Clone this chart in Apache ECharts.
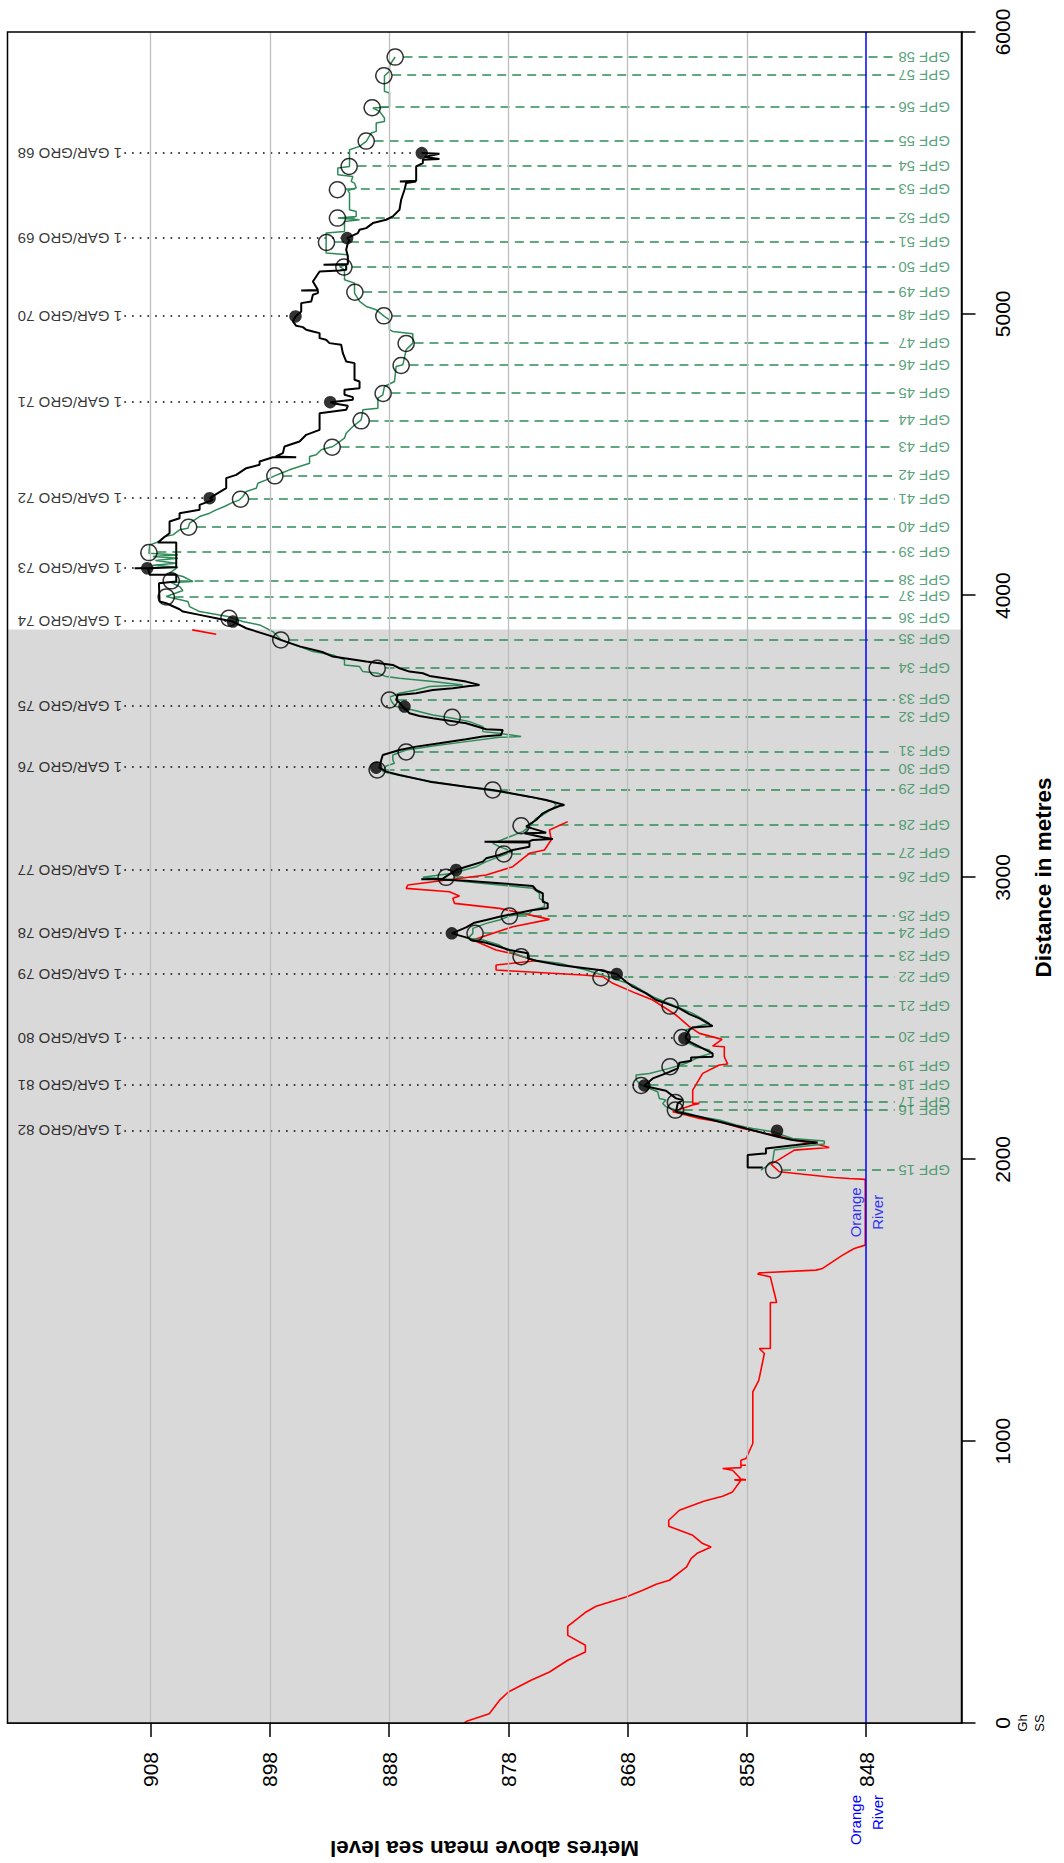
<!DOCTYPE html>
<html>
<head>
<meta charset="utf-8">
<script src="https://cdn.jsdelivr.net/npm/echarts@6/dist/echarts.min.js"></script>
<style>
  html, body { margin: 0; padding: 0; background: #ffffff; width: 1064px; height: 1863px; overflow: hidden; }
  /* The profile is laid out landscape and turned a quarter turn so distance runs up the page */
  #chart { position: absolute; left: 0; top: 0; width: 1863px; height: 1064px;
           transform-origin: 0 0; transform: translate(0, 1863px) rotate(-90deg); }
</style>
</head>
<body>
<div id="chart"></div>
<script>
// ---- axis ticks ----
const elevTicks = [848, 858, 868, 878, 888, 898, 908];
const riverLevel = 848;          // Orange River water level
const riverLabelDist = 1812;     // where the river name sits along the section
const shadeEnd = 3880;           // extent of the shaded stretch of the section

// ---- ground surface (distance m, elevation m) ----
const groundProfile = [
  [0, 881.7], [6, 881.5], [33, 879.6], [80, 878.75], [110, 878.0], [151.6, 876.1], [181, 874.55],
  [222.6, 873.02], [252, 871.54], [275.8, 871.54], [311, 873.02], [343.2, 873.02], [394, 871.48],
  [414.2, 870.64], [447.3, 868.13], [471, 866.73], [492.3, 865.6], [506.5, 864.5], [553.7, 863.05],
  [583.5, 862.68], [603.5, 862.12], [624.7, 861.0], [636.7, 861.7], [666, 862.54], [698, 864.55],
  [719.5, 864.55], [755, 863.66], [788, 861.56], [804.7, 860.03], [820, 859.2], [861, 858.5],
  [862.6, 859.05], [862.6, 858.07], [865.5, 858.5], [897, 859.2], [903, 860.03], [906, 858.5],
  [914.7, 858.5], [914.7, 858.07], [914.7, 858.5], [932, 858.5], [938.5, 858.07], [991.7, 857.5],
  [1175, 857.5], [1216, 857.0], [1311, 856.53], [1329, 856.95], [1329, 856.03], [1492, 856.03],
  [1492, 855.5], [1583, 856.03], [1593, 857.1], [1597.3, 856.95], [1606.9, 852.2], [1612.9, 851.65],
  [1660, 849.97], [1683.8, 848.99], [1695.6, 848.07], [1925.6, 848.07], [1929, 848.07],
  [1932.2, 849.41], [1935.8, 850.67], [1955.9, 855.28], [1983.1, 855.98], [1999.7, 855.28],
  [2032.8, 854.02], [2042.2, 851.09], [2054.1, 852.2], [2068.3, 854.16], [2086, 855.56],
  [2091.9, 856.4], [2109.7, 858.35], [2133.3, 860.31], [2145.2, 861.98], [2157, 863.1],
  [2168.9, 864.22], [2192.5, 862.54], [2198.4, 861.98], [2198.4, 862.54], [2245.8, 862.54],
  [2304.9, 861.7], [2334.5, 860.31], [2338.1, 859.61], [2364.1, 859.89], [2399.6, 859.89],
  [2401.9, 860.87], [2425.6, 860.08], [2446.9, 861.98], [2470.6, 862.82], [2512, 863.94],
  [2565.2, 865.89], [2588.9, 867.29], [2624.4, 869.25], [2648.1, 870.09], [2654, 871.76],
  [2671.7, 879.03], [2689.5, 879.03], [2704.8, 875.67], [2730.9, 877.77], [2742.7, 879.03],
  [2778.2, 880.98], [2825.4, 877.63], [2851.5, 874.55], [2872.8, 876.79], [2890.5, 878.75],
  [2908.3, 882.52], [2926, 882.66], [2934.3, 882.1], [2949.7, 882.94], [2961.5, 886.57],
  [2973.4, 886.43], [3008.8, 879.86], [3038.4, 877.63], [3085.8, 876.23], [3097.6, 874.97],
  [3133.1, 874.41], [3168.6, 874.55], [3198.2, 873.02]
];
const groundProfileUpper = [[3863.2, 902.5], [3878.5, 904.51]];

// ---- measured profile (black) ----
const blackProfile = [
  [1971.3, 856.67], [1971.3, 857.93], [2015, 857.93], [2021, 856.4], [2038.7, 856.4], [2050.5, 853.88],
  [2060, 852.06], [2068.3, 854.16], [2080.1, 855.42], [2115.6, 858.63], [2151.1, 861.98], [2168.9, 863.94],
  [2198.4, 863.8], [2210.3, 863.38], [2216.2, 863.94], [2243.4, 864.78], [2257.6, 866.31], [2262.3, 866.59],
  [2287.2, 865.89], [2305, 864.78], [2322.7, 863.8], [2342.8, 863.66], [2349.9, 862.68], [2361.7, 862.68],
  [2364.1, 860.87], [2375.9, 860.87], [2417.3, 862.82], [2432.7, 863.16], [2458.7, 862.82], [2468.2, 862.54],
  [2472.9, 860.87], [2500.1, 861.98], [2515.5, 862.82], [2535.6, 863.66], [2553.4, 864.78], [2565.2, 865.61],
  [2588.9, 866.45], [2612.6, 867.57], [2630.3, 868.13], [2657.5, 868.91], [2671.7, 870.37], [2689.5, 873.72],
  [2704.8, 875.67], [2713.1, 876.37], [2730.9, 876.37], [2742.7, 877.91], [2754.5, 878.75], [2768.7, 879.87],
  [2778.2, 881.12], [2784.1, 881.26], [2801.8, 882.74], [2823.1, 881.54], [2839.7, 880.84], [2849.1, 879.86],
  [2861, 878.75], [2875.1, 877.07], [2884.6, 875.95], [2890.5, 874.7], [2908.3, 874.7], [2914.2, 875.11],
  [2943.8, 875.11], [2955.6, 875.67], [2969.8, 875.95], [2981.6, 879.31], [2988.7, 881.54], [2993.5, 884.33],
  [2993.5, 885.3], [2996, 883.5], [3026.6, 882.38], [3038.4, 881.54], [3056.2, 880.14], [3068, 879.86],
  [3079.8, 878.75], [3097.6, 877.63], [3109.4, 876.23], [3124, 876.23], [3127, 880.0], [3129, 876.23],
  [3133.1, 875.95], [3136.6, 874.27], [3142.5, 875.11], [3156.7, 876.65], [3159.1, 874.83], [3180.4, 876.51],
  [3204.1, 875.67], [3227.7, 875.11], [3239.6, 874.55], [3253.8, 873.72], [3257.3, 873.3], [3275.1, 874.83],
  [3286.9, 876.23], [3310.6, 879.31], [3322.4, 881.54], [3340.1, 884.61], [3363.8, 887.13], [3375.6, 888.25],
  [3389.8, 888.81], [3417, 888.66], [3434.8, 888.53], [3452.5, 887.13], [3464.4, 885.73], [3476.2, 883.78],
  [3490.4, 881.54], [3499.9, 880.14], [3505.8, 878.61], [3523.5, 878.47], [3525.9, 879.86], [3547.2, 881.54],
  [3564.9, 884.33], [3573.2, 885.45], [3582.7, 886.29], [3600.4, 886.71], [3620.6, 887.13], [3630, 887.41],
  [3647.8, 887.27], [3653.7, 885.73], [3665.5, 884.33], [3671.4, 882.66], [3679.7, 881.26], [3683.3, 880.42],
  [3695.1, 881.54], [3715.2, 884.61], [3724.7, 885.17], [3730.6, 886.29], [3742.4, 887.13], [3754.3, 887.69],
  [3766.1, 889.92], [3783.8, 892.72], [3800, 893.6], [3820, 895.5], [3843, 897.1], [3854.8, 897.75],
  [3884.4, 899.98], [3908.1, 901.1], [3920, 902.5], [3931.8, 903.89], [3943.6, 905.29], [3951.9, 905.57],
  [3973.2, 906.69], [3979.1, 907.25], [4044.2, 907.3], [4050.1, 905.85], [4073.8, 905.85], [4073.8, 908.08],
  [4097.4, 908.22], [4097.4, 909.34], [4097.4, 908.2], [4101, 905.85], [4188.5, 905.85], [4188.5, 907.39],
  [4203.9, 906.97], [4221.6, 906.41], [4263, 906.41], [4274.9, 905.57], [4292.6, 905.57], [4304.5, 903.89],
  [4322.2, 903.89], [4340, 902.77], [4345.9, 903.05], [4363.6, 902.36], [4381.4, 901.66], [4416.9, 901.66],
  [4428.7, 900.82], [4452.4, 899.98], [4464.2, 898.86], [4476.1, 898.86], [4491.4, 897.74], [4491.4, 895.79],
  [4493.8, 897.5], [4505.6, 896.91], [4529.3, 896.77], [4547.1, 895.51], [4570.7, 894.95], [4588.4, 893.83],
  [4647.6, 893.83], [4659.4, 891.6], [4673.6, 891.46], [4683, 892.72], [4686.6, 892.94], [4694.9, 891.04],
  [4704.4, 891.04], [4712.7, 891.74], [4730.4, 891.74], [4736.3, 890.48], [4760, 890.48], [4765.9, 890.9],
  [4825.1, 890.9], [4831, 891.6], [4860.6, 891.88], [4890.2, 892.02], [4896.1, 893.0], [4907.9, 893.28],
  [4913.8, 893.83], [4931.6, 893.83], [4937.5, 894.39], [4943.4, 894.95], [4952.9, 895.23], [4957.6, 895.79],
  [4972.9, 896.07], [4990.7, 895.85], [5008.4, 895.37], [5038, 895.37], [5043.9, 894.53], [5067.6, 894.39],
  [5073.5, 893.97], [5083, 893.97], [5083, 895.37], [5085, 893.97], [5114.9, 894.39], [5150.4, 893.83],
  [5153.9, 892.16], [5156.3, 891.6], [5174, 891.6], [5174, 893.5], [5177, 891.5], [5179.9, 891.46],
  [5203.6, 891.46], [5227.3, 891.6], [5251, 891.46], [5262.8, 891.32], [5268.7, 891.52], [5286.5, 890.62],
  [5298.3, 890.48], [5304.2, 889.92], [5322, 889.36], [5333.8, 888.25], [5345.7, 887.69], [5369.3, 887.13],
  [5404.8, 886.99], [5440.3, 886.71], [5464, 886.57], [5469.9, 885.73], [5469.9, 887.1], [5472, 885.73],
  [5523.1, 885.73], [5534.9, 885.17], [5546.8, 885.17], [5549.1, 883.78], [5556.2, 885.03], [5568.1, 883.78],
  [5570.4, 885.26]
];

// ---- interpreted profile (green) ----
const greenProfile = [
  [1961.8, 856.82], [1973.6, 856.4], [1991.4, 855.84], [2032.8, 855.7], [2044.6, 853.6], [2054.1, 851.51],
  [2064.7, 851.51], [2074.2, 854.16], [2097.8, 855.84], [2109.7, 857.51], [2121.5, 858.91], [2139.3, 860.31],
  [2151.1, 861.98], [2174.8, 863.94], [2186.6, 864.78], [2198.4, 865.06], [2210.3, 864.78], [2216.2, 865.34],
  [2239.8, 865.48], [2263.5, 866.87], [2281.3, 867.29], [2299, 867.29], [2304.9, 866.17], [2322.7, 864.5],
  [2340.4, 863.1], [2364.1, 861.98], [2375.9, 861.0], [2387.7, 861.14], [2399.6, 862.26], [2417.3, 863.1],
  [2458.7, 863.1], [2468.2, 862.54], [2482.4, 861.14], [2494.2, 861.56], [2517.9, 862.54], [2547.5, 864.22],
  [2577.1, 865.89], [2618.5, 867.57], [2642.1, 869.25], [2671.7, 871.48], [2695.4, 873.72], [2707.2, 875.95],
  [2736.8, 877.91], [2760.5, 878.75], [2778.2, 880.14], [2784.1, 881.4], [2801.8, 880.98], [2819.5, 880.98],
  [2837.3, 879.86], [2849.1, 878.75], [2863.3, 877.91], [2872.8, 876.23], [2884.6, 875.95], [2896.5, 874.97],
  [2914.2, 874.97], [2926, 875.39], [2943.8, 875.39], [2961.5, 875.95], [2973.4, 878.75], [2985.2, 881.54],
  [2993.5, 882.94], [3000.6, 885.17], [3014.8, 882.66], [3038.4, 880.7], [3056.2, 879.86], [3073.9, 878.75],
  [3091.7, 877.63], [3109.4, 878.75], [3121.2, 879.31], [3162.7, 876.79], [3180.4, 876.23], [3194.6, 875.95],
  [3210, 875.67], [3221.8, 875.11], [3245.5, 874.27], [3257.3, 873.99], [3269.1, 874.27], [3286.9, 876.23],
  [3304.6, 878.75], [3322.4, 881.54], [3340.1, 884.33], [3369.7, 887.97], [3375.6, 888.53], [3395.8, 888.25],
  [3405.2, 887.55], [3417, 887.69], [3434.8, 887.69], [3452.5, 886.57], [3466.7, 884.33], [3482.1, 881.54],
  [3497.5, 878.75], [3499.9, 876.93], [3511.7, 878.75], [3517.6, 880.14], [3535.4, 880.14], [3553.1, 881.26],
  [3564.9, 882.66], [3576.8, 884.33], [3594.5, 886.01], [3606.4, 887.41], [3618.2, 887.69], [3639.5, 887.97],
  [3653.7, 887.13], [3665.5, 885.73], [3677.4, 884.61], [3683.3, 881.82], [3695.1, 884.33], [3706.9, 887.13],
  [3712.8, 888.25], [3724.7, 888.94], [3730.6, 890.2], [3748.3, 890.48], [3754.3, 891.74], [3772, 891.74],
  [3789.8, 892.72], [3801.6, 894.39], [3819.3, 895.51], [3843, 897.05], [3872.6, 897.75], [3896.3, 898.86],
  [3908.1, 900.26], [3925.9, 901.52], [3943.6, 903.89], [3961.3, 904.73], [3979.1, 904.87], [3996.8, 906.69],
  [4018.1, 905.29], [4032.3, 905.57], [4046.6, 906.27], [4050.1, 904.45], [4067.9, 905.29], [4079.7, 906.41],
  [4101, 905.71], [4108, 907.8], [4115.2, 905.85], [4125, 907.6], [4132.9, 905.71], [4138.8, 907.8],
  [4144.7, 905.71], [4150.6, 908.14], [4180.2, 908.08], [4192.1, 907.25], [4209.8, 906.83], [4215.7, 906.13],
  [4233.5, 905.57], [4239.4, 904.87], [4257.1, 904.73], [4280.8, 903.89], [4292.6, 903.05], [4304.5, 902.5],
  [4316.3, 901.8], [4328.2, 901.24], [4340, 900.54], [4351.8, 900.26], [4369.6, 899.98], [4381.4, 899.14],
  [4399.1, 899.0], [4411, 898.3], [4425.2, 897.61], [4434.6, 897.05], [4446.5, 896.35], [4470.1, 894.67],
  [4493.8, 894.67], [4499.7, 894.11], [4517.5, 893.69], [4529.3, 892.72], [4558.9, 891.74], [4576.6, 891.6],
  [4600.3, 891.04], [4624, 890.34], [4659.5, 890.2], [4665.4, 888.94], [4700.9, 888.94], [4712.7, 888.53],
  [4742.3, 888.39], [4760, 887.55], [4813.2, 887.41], [4819.2, 886.85], [4872.4, 886.57], [4896.1, 886.01],
  [4929.2, 886.01], [4937.5, 887.69], [4943.4, 887.97], [4978.9, 887.97], [4990.7, 888.39], [5014.3, 889.08],
  [5026.2, 889.92], [5043.9, 890.48], [5073.5, 890.9], [5108.9, 890.9], [5120.8, 891.74], [5156.3, 891.74],
  [5168.1, 892.16], [5174, 891.46], [5209.5, 891.46], [5215.5, 893.28], [5286.5, 893.28], [5292.4, 891.74],
  [5327.9, 891.74], [5333.8, 890.48], [5339.7, 892.3], [5345.6, 890.76], [5363.4, 890.76], [5369.3, 891.32],
  [5428.5, 891.32], [5437.9, 891.46], [5446.2, 890.76], [5464, 890.9], [5469.9, 891.18], [5487.6, 891.04],
  [5493.5, 892.3], [5517.2, 892.3], [5523.1, 891.32], [5582.3, 891.32], [5594.1, 890.48], [5611.8, 889.92],
  [5641.4, 889.5], [5647.3, 889.08], [5676.9, 889.08], [5682.8, 888.39], [5694.7, 888.39], [5718.3, 888.8],
  [5730.2, 889.36], [5733.7, 887.97], [5783.4, 887.97], [5789.3, 888.39], [5844.9, 888.39], [5860.3, 887.97],
  [5878.1, 887.97], [5889.9, 887.83], [5911.2, 887.49]
];

// ---- GPF stations ----
const gpfNames = ['GPF 15','GPF 16','GPF 17','GPF 18','GPF 19','GPF 20','GPF 21','GPF 22','GPF 23','GPF 24',
  'GPF 25','GPF 26','GPF 27','GPF 28','GPF 29','GPF 30','GPF 31','GPF 32','GPF 33','GPF 34','GPF 35','GPF 36',
  'GPF 37','GPF 38','GPF 39','GPF 40','GPF 41','GPF 42','GPF 43','GPF 44','GPF 45','GPF 46','GPF 47','GPF 48',
  'GPF 49','GPF 50','GPF 51','GPF 52','GPF 53','GPF 54','GPF 55','GPF 56','GPF 57','GPF 58'];
const gpfDist = [1961.8, 2174.8, 2202, 2262.3, 2328.6, 2432.7, 2544, 2644.5, 2719, 2801.8, 2863.3, 3000.6,
  3083.4, 3184, 3310.6, 3381.6, 3445.4, 3568.5, 3630, 3742.4, 3843, 3920, 3995.7, 4052.5, 4153, 4243, 4342.3,
  4425.2, 4526.9, 4620.4, 4717.4, 4816.8, 4894.9, 4993, 5077, 5165.8, 5253.3, 5339.7, 5440.3, 5523.1, 5613,
  5731.3, 5844.9, 5911.2];
const gpfElev = [855.75, 863.99, 863.99, 866.87, 864.44, 863.44, 864.44, 870.23, 876.93, 880.79, 877.91, 883.22,
  878.38, 876.93, 879.31, 889.0, 886.57, 882.71, 887.97, 889.0, 897.08, 901.43, 906.69, 906.27, 908.14, 904.81,
  900.46, 897.58, 892.77, 890.34, 888.5, 886.99, 886.57, 888.44, 890.87, 891.79, 893.25, 892.33, 892.33, 891.35,
  889.92, 889.42, 888.44, 887.49];

// ---- GAR/GRO boreholes ----
const garNames = ['1 GAR/GRO 82','1 GAR/GRO 81','1 GAR/GRO 80','1 GAR/GRO 79','1 GAR/GRO 78','1 GAR/GRO 77',
  '1 GAR/GRO 76','1 GAR/GRO 75','1 GAR/GRO 74','1 GAR/GRO 73','1 GAR/GRO 72','1 GAR/GRO 71','1 GAR/GRO 70',
  '1 GAR/GRO 69','1 GAR/GRO 68'];
const garDist = [2101.4, 2262.3, 2429.2, 2657.5, 2801.8, 3026.6, 3389.8, 3606.4, 3908.1, 4097.4, 4345.9,
  4686.7, 4990.7, 5268.7, 5570.4];
const garElev = [855.47, 866.59, 863.24, 868.91, 882.74, 882.38, 889.08, 886.71, 901.1, 908.28, 903.05,
  892.94, 895.85, 891.52, 885.26];

// label rows inside the frame
const gpfLabelLevel = 845.3;
const gpfLineEnd = 845.6;
const garLabelLevel = 910.4;
const garLineStart = 910.2;

const FONT = '"Liberation Sans", Arial, Helvetica, sans-serif';
const GREEN = '#2e8b57';

const chart = echarts.init(document.getElementById('chart'), null, { renderer: 'svg', width: 1863, height: 1064 });

chart.setOption({
  animation: false,
  backgroundColor: '#ffffff',
  textStyle: { fontFamily: FONT },
  grid: { left: 140, right: 32, top: 7.5, bottom: 102.5, show: true, borderColor: '#000', borderWidth: 1.5,
          backgroundColor: 'transparent', z: 10, containLabel: false, outerBoundsMode: 'none' },
  xAxis: [{
    type: 'value', min: 0, max: 6000, interval: 1000, position: 'bottom',
    axisLine: { show: true, onZero: false, lineStyle: { color: '#000', width: 1.5 } },
    axisTick: { show: true, length: 14, lineStyle: { color: '#000', width: 1.5 } },
    splitLine: { show: false },
    axisLabel: {
      fontSize: 21, color: '#000', margin: 30, fontFamily: FONT, hideOverlap: false,
      formatter: v => v === 0 ? '{z|0}\n{g|Gh}\n{s|SS}' : String(v),
      rich: {
        z: { fontSize: 21, lineHeight: 21, color: '#000', fontFamily: FONT },
        g: { fontSize: 13, lineHeight: 20, color: '#000', fontFamily: FONT },
        s: { fontSize: 13, lineHeight: 13, color: '#000', fontFamily: FONT }
      }
    },
    name: 'Distance in metres', nameLocation: 'middle', nameGap: 70, nameMoveOverlap: false,
    nameTextStyle: { fontSize: 22.5, fontWeight: 'bold', color: '#000', fontFamily: FONT }
  }],
  yAxis: [{
    type: 'value', min: 840, max: 920, position: 'left',
    axisLine: { show: true, onZero: false, lineStyle: { color: '#000', width: 1.5 } },
    axisTick: { show: true, length: 14, customValues: elevTicks, lineStyle: { color: '#000', width: 1.5 } },
    splitLine: { show: false },
    axisLabel: { customValues: elevTicks, fontSize: 21, color: '#000', margin: 29, fontFamily: FONT },
    name: 'Metres above mean sea level', nameLocation: 'middle', nameGap: 114, nameRotate: 90,
    nameMoveOverlap: false,
    nameTextStyle: { fontSize: 22.5, fontWeight: 'bold', color: '#000', fontFamily: FONT }
  }, {
    type: 'value', min: 840, max: 920, position: 'left',
    axisLine: { show: false }, axisTick: { show: false }, splitLine: { show: false },
    axisLabel: { customValues: [riverLevel], formatter: () => 'Orange\nRiver', color: '#0000ff',
                 fontSize: 15, lineHeight: 22, margin: 72, fontFamily: FONT }
  }],
  series: [
    { // shaded stretch
      type: 'line', data: [], z: 1, silent: true,
      markArea: { silent: true, itemStyle: { color: '#d9d9d9' },
        data: [[{ coord: [0, 840] }, { coord: [shadeEnd, 920] }]] }
    },
    { // elevation grid lines
      type: 'line', data: [], z: 1, silent: true,
      markLine: { silent: true, symbol: 'none', label: { show: false },
        lineStyle: { color: '#bebebe', width: 1.3, type: 'solid' },
        data: elevTicks.filter(v => v !== riverLevel).map(v => ({ yAxis: v })) }
    },
    { // river level
      type: 'line', data: [], z: 2, silent: true,
      markLine: { silent: true, symbol: 'none', label: { show: false },
        lineStyle: { color: '#0000ff', width: 1.5, type: 'solid' },
        data: [{ yAxis: riverLevel }] }
    },
    { type: 'line', name: 'ground', data: groundProfile, showSymbol: false, symbol: 'none', z: 3,
      lineStyle: { color: '#ff0000', width: 1.6 }, silent: true },
    { type: 'line', name: 'ground2', data: groundProfileUpper, showSymbol: false, symbol: 'none', z: 3,
      lineStyle: { color: '#ff0000', width: 1.6 }, silent: true },
    { // GPF station drop lines
      type: 'lines', coordinateSystem: 'cartesian2d', z: 3, silent: true,
      lineStyle: { color: GREEN, width: 1.5, type: [9, 6], opacity: 1 },
      data: gpfDist.map((d, i) => ({ coords: [[d, gpfElev[i] - 0.7], [d, gpfLineEnd]] }))
    },
    { // borehole leader lines
      type: 'lines', coordinateSystem: 'cartesian2d', z: 3, silent: true,
      lineStyle: { color: '#000', width: 1.6, type: [1.6, 6.1], opacity: 1 },
      data: garDist.map((d, i) => ({ coords: [[d, garLineStart], [d, garElev[i] + 0.55]] }))
    },
    { type: 'line', name: 'green', data: greenProfile, showSymbol: false, symbol: 'none', z: 4,
      lineStyle: { color: GREEN, width: 1.5 }, silent: true },
    { type: 'line', name: 'black', data: blackProfile, showSymbol: false, symbol: 'none', z: 5,
      lineStyle: { color: '#000', width: 2 }, silent: true },
    { // GPF stations
      type: 'scatter', z: 6, silent: true, symbol: 'circle', symbolSize: 16,
      itemStyle: { color: 'rgba(0,0,0,0)', borderColor: '#000', borderWidth: 1.5 },
      data: gpfDist.map((d, i) => [d, gpfElev[i]])
    },
    { // boreholes
      type: 'scatter', z: 6, silent: true, symbol: 'circle', symbolSize: 12.5,
      itemStyle: { color: '#000' },
      data: garDist.map((d, i) => [d, garElev[i]])
    },
    { // GPF names
      type: 'scatter', z: 7, silent: true, symbolSize: 0,
      data: gpfDist.map((d, i) => ({ name: gpfNames[i], value: [d, gpfLabelLevel] })),
      label: { show: true, position: [0, 0], rotate: 90, align: 'right', verticalAlign: 'middle',
               formatter: p => p.name, fontSize: 15, color: GREEN, fontFamily: FONT }
    },
    { // borehole names
      type: 'scatter', z: 7, silent: true, symbolSize: 0,
      data: garDist.map((d, i) => ({ name: garNames[i], value: [d, garLabelLevel] })),
      label: { show: true, position: [0, 0], rotate: 90, align: 'left', verticalAlign: 'middle',
               formatter: p => p.name, fontSize: 15, color: '#000', fontFamily: FONT }
    },
    { // river name on the section
      type: 'scatter', z: 7, silent: true, symbolSize: 0,
      data: [{ name: 'Orange\nRiver', value: [riverLabelDist, riverLevel] }],
      label: { show: true, position: [0, 0], align: 'center', verticalAlign: 'middle', lineHeight: 22,
               formatter: p => p.name, fontSize: 15, color: '#0000ff', fontFamily: FONT }
    }
  ]
});
</script>
</body>
</html>
